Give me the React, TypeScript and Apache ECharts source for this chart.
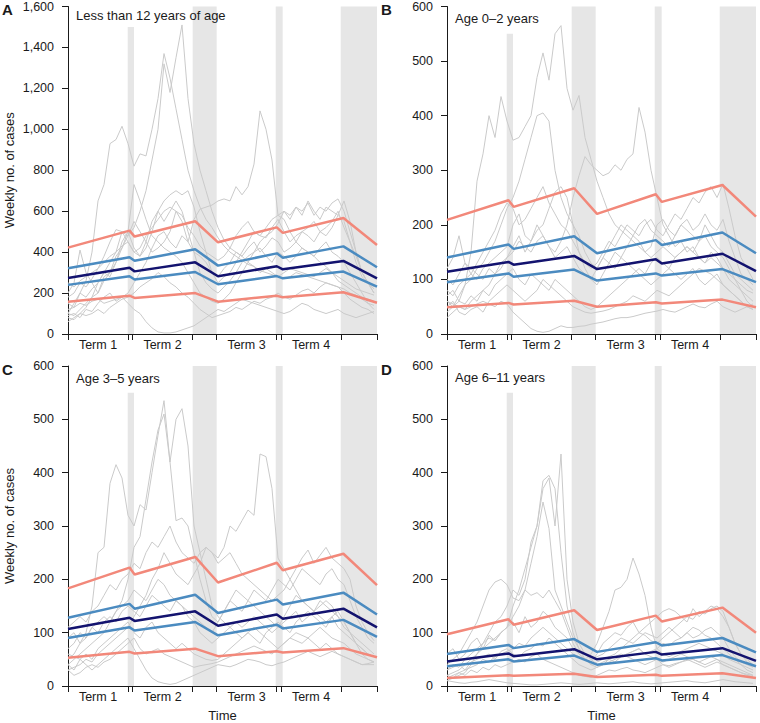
import React, { useEffect, useRef } from "react";
import * as echarts from "echarts";

// ---------- shared x structure (weeks) ----------
const WEEKS = Array.from({ length: 52 }, (_, i) => i);
const X_MAX = 51.5;
const TICK_WEEKS = [0, 10, 10.75, 20.75, 24.75, 34.75, 35.5, 45.5, 51.5];
const TERM_CENTERS = [5, 15.75, 29.75, 40.5];
const TERM_LABELS = ["Term 1", "Term 2", "Term 3", "Term 4"];
// holiday bands: [start week, end week]
const HOLIDAYS = [
  [9.95, 11.0],
  [20.78, 24.78],
  [34.62, 35.78],
  [45.45, 51.5],
];
// knots of the fitted quantile lines
const KNOTS = [0, 10.25, 11.1, 21.2, 25, 34.8, 35.8, 45.9, 51.5];

// ---------- Panel A: < 12 years ----------
const A_Q95 = [422, 505, 476, 551, 448, 521, 494, 567, 435];
const A_Q75 = [321, 375, 358, 414, 334, 394, 373, 428, 326];
const A_Q50 = [274, 324, 306, 350, 282, 331, 316, 357, 272];
const A_Q25 = [240, 282, 266, 303, 243, 283, 272, 305, 231];
const A_Q05 = [158, 187, 176, 200, 158, 187, 179, 204, 153];
const A_YEARS = [
  [100, 90, 120, 150, 180, 200, 260, 300, 380, 420, 480, 520, 600, 700, 850, 1000, 1320, 1180, 1350, 1510, 1150, 930, 800, 700, 600, 520, 460, 420, 400, 380, 350, 330, 300, 320, 300, 280, 300, 320, 310, 300, 290, 280, 300, 320, 300, 260, 240, 220, 200, 180, 170, 160],
  [150, 130, 200, 260, 400, 650, 730, 930, 950, 1015, 930, 820, 880, 870, 1000, 1150, 1370, 1250, 1100, 950, 800, 700, 620, 560, 520, 470, 430, 400, 380, 360, 340, 330, 310, 300, 290, 280, 270, 280, 300, 290, 280, 270, 260, 250, 240, 230, 220, 200, 190, 170, 150, 140],
  [90, 100, 80, 120, 110, 150, 180, 200, 160, 180, 200, 250, 300, 350, 420, 480, 500, 450, 420, 480, 450, 560, 610, 620, 630, 650, 660, 650, 720, 680, 720, 830, 1090, 1000, 850, 580, 560, 500, 450, 420, 400, 380, 350, 330, 300, 280, 260, 240, 220, 210, 200, 190],
  [80, 70, 100, 130, 180, 250, 300, 280, 350, 420, 500, 730, 650, 560, 480, 450, 420, 400, 380, 350, 300, 250, 200, 180, 160, 150, 170, 200, 250, 300, 350, 400, 450, 480, 500, 540, 600, 580, 620, 600, 640, 580, 620, 600, 640, 660, 600, 500, 400, 300, 250, 230],
  [200, 250, 410, 300, 250, 200, 280, 300, 350, 450, 500, 420, 380, 450, 550, 600, 650, 680, 700, 680, 700, 620, 500, 400, 300, 250, 280, 300, 350, 400, 450, 500, 480, 470, 520, 560, 500, 450, 480, 500, 520, 550, 500, 480, 520, 580, 550, 450, 350, 280, 250, 220],
  [120, 130, 150, 140, 160, 170, 150, 160, 170, 180, 150, 120, 100, 60, 30, 10, 5, 5, 10, 20, 30, 40, 60, 80, 100, 120, 110, 130, 150, 170, 160, 150, 140, 130, 120, 110, 100, 110, 130, 150, 140, 120, 110, 100, 110, 120, 100, 90, 80, 90, 100, 110],
  [100, 150, 200, 180, 220, 250, 300, 350, 400, 500, 480, 550, 500, 450, 400, 420, 450, 500, 600, 550, 450, 400, 380, 350, 300, 280, 320, 350, 400, 380, 420, 450, 400, 430, 470, 450, 400, 420, 450, 500, 480, 450, 500, 520, 550, 600, 520, 450, 380, 300, 250, 200],
  [60, 80, 100, 90, 100, 120, 100, 130, 150, 170, 180, 200, 230, 250, 270, 300, 280, 250, 230, 200, 180, 150, 120, 100, 80, 90, 100, 110, 130, 120, 140, 160, 150, 170, 180, 200, 180, 170, 190, 210, 220, 200, 230, 250, 240, 230, 200, 170, 150, 130, 120, 100],
  [250, 230, 260, 280, 300, 320, 350, 380, 400, 430, 450, 400, 420, 480, 520, 560, 600, 620, 600, 580, 520, 480, 430, 400, 380, 360, 380, 420, 480, 520, 550, 500, 480, 520, 560, 580, 600, 560, 620, 580, 650, 600, 560, 620, 600, 580, 650, 550, 400, 300, 250, 200],
  [180, 200, 250, 230, 270, 320, 380, 450, 510, 500, 450, 400, 380, 420, 500, 600, 550, 600, 650, 600, 500, 400, 300, 250, 220, 200, 230, 260, 300, 350, 380, 400, 420, 380, 350, 400, 380, 350, 380, 420, 400, 380, 420, 450, 400, 380, 350, 300, 250, 200, 150, 120],
];

// ---------- Panel B: 0–2 years ----------
const B_Q95 = [209, 245, 233, 267, 220, 256, 242, 273, 215];
const B_Q75 = [140, 164, 156, 179, 148, 172, 163, 186, 148];
const B_Q50 = [114, 132, 127, 143, 119, 137, 129, 147, 115];
const B_Q25 = [95, 111, 105, 118, 98, 111, 107, 119, 95];
const B_Q05 = [49, 57, 54, 61, 50, 58, 56, 63, 49];
const B_YEARS = [
  [60, 50, 70, 90, 150, 280, 330, 400, 360, 435, 390, 355, 360, 380, 400, 470, 515, 465, 550, 565, 450, 410, 437, 360, 320, 280, 250, 220, 200, 190, 180, 170, 160, 150, 140, 150, 160, 150, 140, 150, 160, 150, 140, 130, 140, 130, 120, 110, 100, 90, 80, 75],
  [70, 80, 60, 90, 100, 120, 130, 150, 170, 200, 230, 250, 280, 320, 360, 400, 405, 390, 300, 250, 220, 200, 180, 150, 130, 120, 140, 160, 180, 200, 190, 180, 200, 210, 190, 180, 170, 160, 180, 200, 190, 180, 170, 200, 180, 160, 150, 130, 110, 100, 90, 80],
  [30, 40, 50, 45, 60, 70, 80, 90, 110, 120, 140, 160, 180, 150, 170, 200, 180, 160, 150, 170, 200, 250, 290, 325, 310, 300, 290, 295, 310, 300, 320, 330, 415, 370, 300, 250, 200, 180, 160, 170, 150, 160, 140, 130, 150, 140, 120, 100, 90, 80, 70, 60],
  [60, 55, 50, 45, 50, 55, 60, 55, 50, 60, 55, 40, 30, 20, 10, 5, 3, 5, 10, 15, 12, 12, 14, 15, 18, 20, 22, 25, 28, 30, 30, 32, 35, 38, 40, 42, 45, 42, 40, 45, 50, 55, 50, 48, 55, 60, 50, 45, 40, 45, 50, 55],
  [120, 140, 180, 130, 110, 130, 150, 170, 190, 220, 240, 230, 200, 210, 230, 250, 270, 240, 220, 200, 190, 170, 150, 130, 120, 130, 150, 170, 160, 180, 200, 190, 180, 200, 210, 190, 180, 200, 220, 210, 230, 250, 240, 260, 270, 250, 275, 230, 180, 140, 120, 100],
  [80, 70, 90, 100, 110, 100, 120, 130, 140, 150, 160, 200, 220, 180, 170, 190, 200, 230, 260, 270, 250, 200, 150, 120, 100, 90, 110, 130, 150, 140, 160, 180, 170, 150, 160, 200, 210, 190, 180, 200, 210, 190, 200, 220, 200, 190, 210, 170, 140, 110, 100, 90],
  [40, 50, 60, 55, 70, 60, 80, 70, 90, 100, 110, 120, 100, 90, 110, 100, 90, 80, 100, 90, 80, 70, 60, 50, 45, 50, 60, 70, 80, 90, 100, 110, 120, 110, 130, 140, 130, 120, 140, 150, 160, 150, 170, 180, 160, 150, 140, 120, 100, 80, 60, 50],
  [100, 90, 110, 130, 120, 110, 100, 120, 110, 130, 140, 150, 170, 160, 150, 170, 180, 160, 140, 150, 160, 140, 120, 110, 100, 120, 140, 130, 120, 140, 130, 120, 110, 100, 90, 100, 110, 120, 110, 100, 110, 120, 100, 90, 100, 110, 90, 80, 70, 60, 50, 45],
  [50, 60, 40, 35, 45, 50, 40, 60, 70, 80, 90, 80, 70, 60, 70, 80, 100, 90, 80, 70, 60, 50, 45, 40, 38, 40, 42, 45, 50, 55, 60, 70, 65, 60, 70, 80, 75, 70, 80, 90, 100, 110, 120, 115, 110, 100, 90, 80, 70, 60, 50, 45],
];

// ---------- Panel C: 3–5 years ----------
const C_Q95 = [183, 222, 209, 242, 194, 231, 217, 248, 189];
const C_Q75 = [128, 154, 145, 171, 137, 162, 153, 175, 134];
const C_Q50 = [107, 128, 122, 140, 113, 134, 126, 145, 110];
const C_Q25 = [90, 110, 104, 120, 95, 115, 108, 124, 92];
const C_Q05 = [53, 64, 61, 70, 56, 65, 63, 71, 54];
const C_YEARS = [
  [50, 60, 80, 100, 150, 250, 260, 380, 415, 390, 320, 300, 340, 330, 400, 470, 535, 420, 500, 520, 450, 300, 250, 200, 150, 130, 120, 110, 100, 90, 100, 110, 100, 90, 80, 70, 80, 90, 85, 80, 90, 80, 70, 80, 70, 60, 55, 50, 45, 40, 40, 40],
  [40, 50, 60, 70, 80, 90, 100, 120, 140, 160, 200, 260, 280, 350, 420, 480, 510, 420, 310, 315, 300, 250, 200, 160, 130, 120, 140, 160, 180, 170, 160, 150, 140, 130, 120, 110, 130, 150, 170, 160, 150, 140, 160, 150, 140, 130, 120, 100, 80, 70, 60, 55],
  [30, 35, 40, 50, 45, 60, 70, 80, 90, 100, 110, 130, 150, 170, 200, 220, 250, 230, 210, 200, 190, 210, 230, 260, 250, 240, 260, 300, 290, 310, 330, 320, 435, 430, 370, 240, 220, 200, 180, 160, 150, 140, 130, 120, 130, 110, 100, 90, 80, 70, 60, 55],
  [60, 55, 50, 40, 30, 40, 50, 60, 70, 80, 90, 70, 50, 30, 15, 8, 5, 3, 5, 10, 15, 20, 25, 30, 35, 40, 38, 36, 40, 45, 50, 48, 45, 40, 38, 42, 45, 50, 55, 60, 65, 60, 55, 60, 65, 60, 55, 50, 45, 40, 42, 45],
  [110, 120, 130, 120, 140, 150, 170, 190, 180, 200, 210, 230, 220, 250, 270, 260, 280, 300, 270, 250, 240, 230, 250, 260, 250, 230, 240, 250, 230, 210, 200, 190, 180, 170, 160, 170, 180, 200, 220, 240, 255, 230, 245, 260, 240, 230, 220, 200, 150, 120, 100, 85],
  [70, 80, 100, 90, 110, 120, 130, 120, 140, 150, 160, 180, 170, 160, 180, 200, 190, 170, 160, 150, 140, 130, 120, 110, 100, 120, 140, 160, 150, 140, 160, 180, 170, 160, 180, 200, 190, 180, 200, 220, 210, 200, 190, 210, 220, 200, 190, 160, 130, 110, 90, 80],
  [40, 30, 50, 60, 50, 70, 80, 90, 100, 110, 120, 100, 90, 110, 120, 100, 90, 80, 70, 80, 70, 60, 55, 50, 48, 50, 60, 70, 80, 90, 100, 90, 80, 100, 110, 120, 110, 100, 120, 130, 140, 130, 120, 110, 130, 140, 120, 100, 80, 60, 50, 45],
  [90, 100, 80, 90, 110, 100, 120, 130, 120, 140, 150, 140, 130, 150, 170, 160, 150, 140, 160, 150, 130, 120, 100, 90, 80, 90, 100, 110, 120, 110, 120, 130, 120, 110, 100, 110, 120, 130, 140, 120, 130, 140, 150, 160, 150, 130, 110, 100, 90, 80, 70, 60],
  [30, 20, 25, 35, 40, 35, 45, 50, 60, 70, 80, 90, 70, 60, 65, 70, 60, 55, 50, 45, 40, 35, 38, 40, 42, 45, 50, 55, 60, 65, 70, 75, 70, 65, 60, 70, 80, 90, 100, 95, 90, 100, 110, 100, 90, 85, 80, 70, 60, 55, 50, 45],
];

// ---------- Panel D: 6–11 years ----------
const D_Q95 = [97, 125, 115, 142, 105, 132, 121, 147, 100];
const D_Q75 = [60, 77, 71, 88, 64, 82, 76, 90, 63];
const D_Q50 = [46, 61, 56, 69, 50, 64, 59, 71, 47];
const D_Q25 = [37, 50, 46, 57, 40, 52, 48, 58, 37];
const D_Q05 = [15, 20, 19, 23, 17, 21, 19, 24, 15];
const D_YEARS = [
  [20, 25, 30, 40, 50, 60, 70, 80, 90, 100, 110, 150, 180, 220, 260, 300, 370, 390, 300, 435, 200, 120, 80, 60, 50, 40, 45, 50, 55, 60, 55, 50, 45, 40, 45, 50, 40, 35, 40, 45, 50, 45, 40, 35, 40, 45, 40, 35, 30, 25, 20, 18],
  [10, 15, 20, 25, 40, 60, 80, 100, 120, 130, 150, 180, 170, 200, 270, 300, 385, 395, 370, 250, 150, 100, 70, 50, 40, 35, 40, 45, 50, 55, 60, 65, 70, 60, 55, 50, 45, 50, 55, 60, 55, 50, 45, 50, 55, 50, 45, 40, 35, 30, 25, 20],
  [40, 50, 60, 80, 100, 120, 150, 180, 195, 200, 190, 165, 160, 180, 170, 175, 165, 180, 160, 140, 110, 80, 60, 50, 40, 45, 50, 55, 60, 70, 80, 90, 100, 95, 85, 80, 90, 100, 110, 120, 130, 125, 140, 135, 145, 150, 140, 110, 80, 60, 50, 40],
  [15, 20, 25, 30, 35, 40, 50, 45, 55, 60, 65, 70, 80, 75, 90, 100, 110, 100, 90, 80, 70, 60, 55, 50, 60, 80, 110, 140, 180, 185, 200, 240, 210, 170, 110, 70, 60, 55, 60, 65, 70, 75, 80, 75, 70, 65, 60, 50, 45, 40, 35, 30],
  [10, 8, 6, 5, 7, 8, 10, 12, 10, 8, 6, 5, 4, 3, 2, 2, 3, 4, 5, 6, 5, 4, 3, 4, 5, 6, 5, 4, 5, 6, 7, 8, 6, 5, 4, 5, 6, 7, 8, 9, 10, 8, 7, 6, 8, 10, 12, 10, 8, 7, 6, 5],
  [60, 70, 50, 60, 80, 90, 70, 95, 85, 100, 110, 120, 100, 130, 110, 120, 140, 130, 110, 100, 90, 70, 60, 50, 45, 60, 80, 90, 100, 95, 110, 120, 100, 110, 120, 130, 140, 145, 140, 130, 120, 145, 130, 140, 150, 145, 130, 110, 80, 60, 45, 40],
  [30, 35, 40, 30, 45, 50, 55, 60, 50, 65, 70, 60, 55, 65, 70, 80, 75, 90, 80, 70, 60, 50, 40, 35, 30, 35, 40, 50, 45, 55, 60, 65, 70, 60, 65, 70, 80, 75, 85, 90, 100, 90, 95, 105, 110, 100, 90, 70, 55, 45, 40, 35],
  [20, 15, 25, 20, 30, 25, 35, 30, 40, 35, 40, 45, 50, 45, 55, 60, 50, 45, 40, 35, 30, 25, 20, 18, 16, 20, 25, 30, 28, 32, 35, 30, 28, 25, 30, 35, 40, 38, 42, 45, 48, 50, 45, 40, 45, 50, 40, 35, 30, 25, 22, 20],
  [30, 40, 35, 50, 60, 70, 80, 90, 85, 100, 110, 130, 150, 180, 230, 280, 345, 295, 180, 150, 120, 90, 70, 60, 50, 55, 60, 70, 80, 90, 85, 80, 90, 100, 95, 90, 100, 110, 100, 90, 100, 110, 105, 95, 90, 80, 70, 60, 50, 40, 30, 25],
];

const PANELS = [
  { letter: "A", title: "Less than 12 years of age", titleDy: 3, yMax: 1600, yStep: 200, band1Top: 1500, years: A_YEARS, q: [A_Q95, A_Q75, A_Q50, A_Q25, A_Q05], left: 68, top: 6, yName: true, xName: false },
  { letter: "B", title: "Age 0\u20132 years", titleDy: 6, yMax: 600, yStep: 100, band1Top: 550, years: B_YEARS, q: [B_Q95, B_Q75, B_Q50, B_Q25, B_Q05], left: 447, top: 6, yName: false, xName: false },
  { letter: "C", title: "Age 3\u20135 years", titleDy: 6, yMax: 600, yStep: 100, band1Top: 550, years: C_YEARS, q: [C_Q95, C_Q75, C_Q50, C_Q25, C_Q05], left: 68, top: 366, yName: true, xName: true },
  { letter: "D", title: "Age 6\u201311 years", titleDy: 5, yMax: 600, yStep: 100, band1Top: 550, years: D_YEARS, q: [D_Q95, D_Q75, D_Q50, D_Q25, D_Q05], left: 447, top: 366, yName: false, xName: true },
];

const PLOT_W = 309;
const PLOT_H = 328;
const FONT = "'Liberation Sans', Arial, Helvetica, sans-serif";
const INK = "#1a1a1a";
const Q_COLORS = ["#F2887A", "#4B8BC0", "#13136F", "#4B8BC0", "#F2887A"];
const GRAY_LINE = "#CACACA";
const BAND = "#E6E6E6";

function buildOption() {
  const grid: any[] = [];
  const xAxis: any[] = [];
  const yAxis: any[] = [];
  const series: any[] = [];
  const graphic: any[] = [];

  PANELS.forEach((p, i) => {
    grid.push({ left: p.left, top: p.top, width: PLOT_W, height: PLOT_H, containLabel: false });
    xAxis.push({
      type: "value",
      gridIndex: i,
      min: 0,
      max: X_MAX,
      splitLine: { show: false },
      axisLine: { show: true, lineStyle: { color: INK, width: 1 } },
      axisTick: { show: true, customValues: TICK_WEEKS, length: 6, lineStyle: { color: INK, width: 1 } },
      axisLabel: {
        show: true,
        customValues: TERM_CENTERS,
        margin: 4,
        fontSize: 12.5,
        color: INK,
        fontFamily: FONT,
        formatter: (v: number) => {
          const k = TERM_CENTERS.findIndex((c) => Math.abs(c - v) < 0.01);
          return k >= 0 ? TERM_LABELS[k] : "";
        },
      },
      name: p.xName ? "Time" : "",
      nameLocation: "middle",
      nameGap: 23,
      nameTextStyle: { fontSize: 13, color: INK, fontFamily: FONT },
    });
    yAxis.push({
      type: "value",
      gridIndex: i,
      min: 0,
      max: p.yMax,
      interval: p.yStep,
      splitLine: { show: false },
      axisLine: { show: true, lineStyle: { color: INK, width: 1 } },
      axisTick: { show: true, length: 6, lineStyle: { color: INK, width: 1 } },
      axisLabel: {
        margin: 14,
        fontSize: 12.5,
        color: INK,
        fontFamily: FONT,
        formatter: (v: number) => v.toLocaleString("en-US"),
      },
      name: p.yName ? "Weekly no. of cases" : "",
      nameLocation: "middle",
      nameGap: 52,
      nameTextStyle: { fontSize: 13, color: INK, fontFamily: FONT },
    });

    // holiday bands
    const bandData = HOLIDAYS.map((h, k) => [h[0], h[1], k === 0 ? p.band1Top : p.yMax]);
    series.push({
      type: "custom",
      xAxisIndex: i,
      yAxisIndex: i,
      silent: true,
      z: 1,
      data: bandData,
      renderItem: (params: any, api: any) => {
        const p0 = api.coord([api.value(0), api.value(2)]);
        const p1 = api.coord([api.value(1), 0]);
        return {
          type: "rect",
          shape: { x: p0[0], y: p0[1], width: p1[0] - p0[0], height: p1[1] - p0[1] },
          style: { fill: BAND },
        };
      },
    });

    // individual years
    p.years.forEach((yr) => {
      series.push({
        type: "line",
        xAxisIndex: i,
        yAxisIndex: i,
        data: WEEKS.map((w, k) => [w, yr[k]]),
        showSymbol: false,
        silent: true,
        z: 2,
        lineStyle: { color: GRAY_LINE, width: 1 },
      });
    });

    // quantile lines
    p.q.forEach((qv, k) => {
      series.push({
        type: "line",
        xAxisIndex: i,
        yAxisIndex: i,
        data: KNOTS.map((w, j) => [w, qv[j]]),
        showSymbol: false,
        silent: true,
        z: 3 + (k === 2 ? 1 : 0),
        lineStyle: { color: Q_COLORS[k], width: 2.5 },
      });
    });

    // panel letter and subtitle
    graphic.push({
      type: "text",
      z: 100,
      left: p.left - 66,
      top: p.top - 4,
      style: { text: p.letter, font: `bold 15px ${FONT}`, fill: INK },
    });
    graphic.push({
      type: "text",
      z: 100,
      left: p.left + 8,
      top: p.top + p.titleDy,
      style: { text: p.title, font: `13px ${FONT}`, fill: INK },
    });
  });

  return {
    animation: false,
    backgroundColor: "#ffffff",
    textStyle: { fontFamily: FONT },
    grid,
    xAxis,
    yAxis,
    series,
    graphic,
  };
}

export default function App() {
  const ref = useRef<HTMLDivElement>(null);
  useEffect(() => {
    if (!ref.current) return;
    const chart = echarts.init(ref.current, undefined, { renderer: "svg" });
    chart.setOption(buildOption());
    return () => chart.dispose();
  }, []);
  return (
    <div
      ref={ref}
      style={{ position: "absolute", left: 0, top: 0, width: 760, height: 723, background: "#fff" }}
    />
  );
}
